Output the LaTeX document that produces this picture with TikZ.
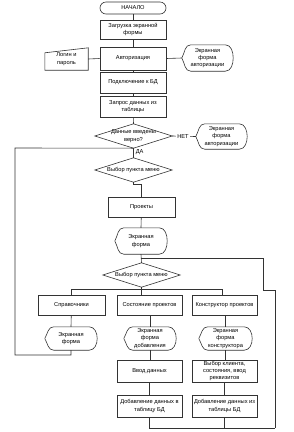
\documentclass[tikz,border=0pt]{standalone}
\usepackage{fontspec}
\setmainfont{Liberation Sans}
\usetikzlibrary{calc}
\newcommand{\dispshape}[1]{%
 \draw[ln] (#1.west) to[out=60,in=180] ([xshift=9pt]#1.north west) -- ([xshift=-8pt]#1.north east) to[out=0,in=90] (#1.east) to[out=-90,in=0] ([xshift=-8pt]#1.south east) -- ([xshift=9pt]#1.south west) to[out=180,in=-60] (#1.west);}
\newcommand{\diashape}[1]{%
 \draw[ln] (#1.west) -- (#1.north) -- (#1.east) -- (#1.south) -- cycle;}
\begin{document}
\begin{tikzpicture}[x=1pt,y=1pt,
  every node/.style={font=\fontsize{5.7}{7.4}\selectfont, align=center, inner sep=0pt},
  ln/.style={line width=0.6pt, draw=black!80},
  box/.style={ln, draw, rectangle, minimum width=#1},
  box/.default=66pt,
  term/.style={ln, draw, rectangle, rounded corners=6pt, minimum width=66pt, minimum height=12pt},
  disp/.style={rectangle, draw=none, minimum width=52pt, minimum height=#1},
  disp/.default=26pt,
  dia/.style={rectangle, draw=none, minimum width=77pt, minimum height=24pt},
  lbl/.style={fill=white, inner sep=1pt}
]
\useasboundingbox (0,0) rectangle (293,-432);
\node[term] (start) at (133,-8) {НАЧАЛО};
\node[box, minimum height=19pt] (load) at (133,-29.5) {Загрузка экранной\\формы};
\node[box, minimum height=23pt] (auth) at (133,-58.5) {Авторизация};
\node[rectangle, draw=none, minimum width=43pt, minimum height=22pt] (login) at (66.5,-59) {Логин и\\пароль};
\node[disp, minimum width=51pt] (d1) at (207.5,-58) {Экранная\\форма\\авторизации};
\node[box, minimum height=21pt] (db) at (133,-82.5) {Подключение к БД};
\node[box, minimum height=21pt] (query) at (133,-106.5) {Запрос данных из\\таблицы};
\node[dia] (dec1) at (133.5,-136) {Данные введены\\верно?};
\node[disp=25pt, minimum width=51pt] (d2) at (221.5,-136.5) {Экранная\\форма\\авторизации};
\node[dia] (dec2) at (133.5,-170) {Выбор пункта меню};
\node[box=67pt, minimum height=20pt] (proj) at (141.5,-207) {Проекты};
\node[disp] (d4) at (141,-241) {Экранная\\форма};
\node[dia] (dec3) at (141.5,-275) {Выбор пункта меню};
\node[box=67pt, minimum height=20pt] (sprav) at (71.5,-305) {Справочники};
\node[box=65pt, minimum height=20pt] (state) at (149.5,-305) {Состояние проектов};
\node[box=65pt, minimum height=20pt] (constr) at (224.5,-305) {Конструктор проектов};
\node[disp=23pt] (d3) at (71,-338.5) {Экранная\\форма};
\node[disp=23pt] (d5) at (150,-338.5) {Экранная\\форма\\добавления};
\node[disp=23pt, minimum width=53pt] (d6) at (225.5,-338.5) {Экранная\\форма\\конструктора};
\node[box=65pt, minimum height=22pt] (input) at (149.5,-371) {Ввод данных};
\node[box=65pt, minimum height=22pt] (choose) at (224.5,-371) {Выбор клиента,\\состояния, ввод\\реквизитов};
\node[box=65pt, minimum height=22pt] (add1) at (149.5,-406) {Добавление данных в\\таблицу БД};
\node[box=65pt, minimum height=22pt] (add2) at (224.5,-406) {Добавление данных из\\таблицы БД};
% shapes
\draw[ln] (login.south west) -- ([yshift=-5pt]login.north west) -- (login.north east) -- (login.south east) -- cycle;
\dispshape{d1}\dispshape{d2}\dispshape{d3}\dispshape{d4}\dispshape{d5}\dispshape{d6}
\diashape{dec1}\diashape{dec2}\diashape{dec3}
% coordinates
\coordinate (L1) at (15,-148);
\coordinate (L2) at (15,-355);
\coordinate (R1) at (263,-258);
\coordinate (R2) at (263,-290);
\coordinate (R3) at (275,-290);
\coordinate (R4) at (275,-428);
% connectors
\draw[ln] (start) -- (load);
\draw[ln] (load) -- (auth);
\draw[ln] (login.east) -- (auth.west);
\draw[ln] (auth.east) -- (d1.west);
\draw[ln] (auth) -- (db);
\draw[ln] (db) -- (query);
\draw[ln] (query) -- (dec1.north);
\draw[ln] (dec1.east) -- node[lbl, xshift=-1pt] {НЕТ} (d2.west);
\draw[ln] (d3.south) |- (L2) -- (L1) -- (dec1.south);
\draw[ln] (dec1.south) -- node[right=2pt, pos=0.4] {ДА} (dec2.north);
\draw[ln] (dec2.south) -- ++(0,-2) -| (proj.north);
\draw[ln] (proj) -- (d4.north);
\draw[ln] (d4.south) -- (dec3.north);
\draw[ln] (d4.south |- R1) -- (R1) -- (R2) -- (R3) -- (R4);
\draw[ln] (add1.south) |- (R4);
\draw[ln] (add2.south) -- (add2.south |- R4);
\draw[ln] (dec3.south) -- (dec3.south |- state.north);
\draw[ln] (sprav.north) -- ++(0,5) -| ([xshift=-2pt]constr.north);
\draw[ln] (sprav) -- (d3.north);
\draw[ln] (state.south -| d5.north) -- (d5.north);
\draw[ln] (constr.south -| d6.north) -- (d6.north);
\draw[ln] (d5.south) -- (d5.south |- input.north);
\draw[ln] (d6.south) -- (d6.south |- choose.north);
\draw[ln] (input) -- (add1);
\draw[ln] (choose) -- (add2);
\end{tikzpicture}
\end{document}
